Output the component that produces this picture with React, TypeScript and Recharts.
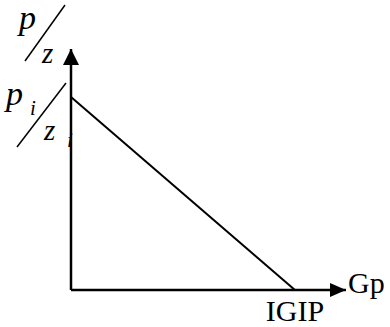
import { LineChart, Line, XAxis, YAxis, ReferenceLine, ReferenceDot } from "recharts"

// straight-line p/z decline: starts at pi/zi on the y axis, reaches zero at IGIP
const gp = [0, 1]
const pz = [1, 0]
const xMax = 1.228
const yMax = 1.249

const data = gp.map((x, i) => ({ x, y: pz[i] }))

const serif = "'Liberation Serif', 'Times New Roman', serif"

function UpArrow(props: any) {
  const { cx, cy } = props
  return (
    <g>
      <polygon points={`${cx},${cy} ${cx - 8},${cy + 16} ${cx + 8},${cy + 16}`} fill="#000" />
      <text x={cx - 52} y={cy - 20} fill="#000" fontFamily={serif} fontStyle="italic" fontSize={34}>p</text>
      <line x1={cx - 46} y1={cy + 12} x2={cx - 6} y2={cy - 44} stroke="#000" strokeWidth={1.5} />
      <text x={cx - 29} y={cy + 14} fill="#000" fontFamily={serif} fontStyle="italic" fontSize={29}>z</text>
    </g>
  )
}

function RightArrow(props: any) {
  const { cx, cy } = props
  return (
    <g>
      <polygon points={`${cx},${cy} ${cx - 16},${cy - 7} ${cx - 16},${cy + 7}`} fill="#000" />
      <text x={cx + 2} y={cy + 3} fill="#000" fontFamily={serif} fontSize={30}>Gp</text>
    </g>
  )
}

function StartLabel(props: any) {
  const { cx, cy } = props
  return (
    <g>
      <text x={cx - 65} y={cy + 8} fill="#000" fontFamily={serif} fontStyle="italic" fontSize={34}>p</text>
      <text x={cx - 41} y={cy + 18} fill="#000" fontFamily={serif} fontStyle="italic" fontSize={21}>i</text>
      <line x1={cx - 54} y1={cy + 50} x2={cx - 5} y2={cy - 14} stroke="#000" strokeWidth={1.5} />
      <text x={cx - 27} y={cy + 43} fill="#000" fontFamily={serif} fontStyle="italic" fontSize={29}>z</text>
      <text x={cx - 4} y={cy + 50} fill="#000" fontFamily={serif} fontStyle="italic" fontSize={21}>i</text>
    </g>
  )
}

function EndLabel(props: any) {
  const { cx, cy } = props
  return (
    <text x={cx} y={cy + 31} fill="#000" textAnchor="middle" fontFamily={serif} fontSize={30}>IGIP</text>
  )
}

export default function App() {
  return (
    <div style={{ position: "absolute", left: 0, top: 0, background: "#fff" }}>
      <LineChart width={390} height={327} data={data} margin={{ top: 49, right: 44, left: 71, bottom: 37 }}>
        <XAxis type="number" dataKey="x" domain={[0, xMax]} hide />
        <YAxis type="number" domain={[0, yMax]} hide />
        <ReferenceLine x={0} stroke="#000" strokeWidth={2.5} />
        <ReferenceLine y={0} stroke="#000" strokeWidth={2.5} />
        <Line dataKey="y" stroke="#000" strokeWidth={2} dot={false} isAnimationActive={false} />
        <ReferenceDot x={0} y={yMax} shape={UpArrow} />
        <ReferenceDot x={xMax} y={0} shape={RightArrow} />
        <ReferenceDot x={gp[0]} y={pz[0]} shape={StartLabel} />
        <ReferenceDot x={gp[1]} y={pz[1]} shape={EndLabel} />
      </LineChart>
    </div>
  )
}
